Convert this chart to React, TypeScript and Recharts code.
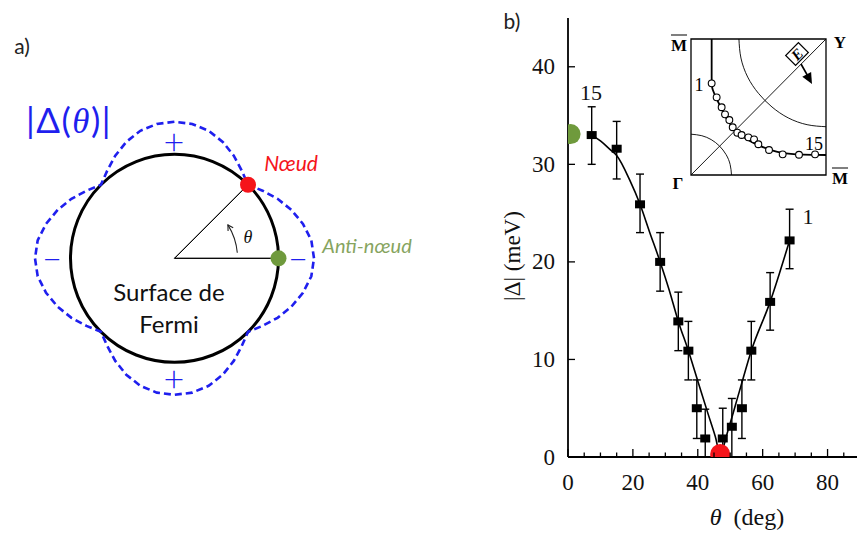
import React from 'react';
import {
  RadarChart, Radar, PolarGrid, PolarAngleAxis, PolarRadiusAxis,
  ComposedChart, Line, Scatter, ErrorBar, XAxis, YAxis, ReferenceArea, ReferenceLine,
} from 'recharts';

// ---------- panel a) : |Δ(θ)| drawn around a circular Fermi surface (radii in px)
const polarAngles = [0, 7.5, 15, 22.5, 30, 37.5, 45, 52.5, 60, 67.5, 75, 82.5, 90, 97.5, 105, 112.5, 120, 127.5, 135, 142.5, 150, 157.5, 165, 172.5, 180, 187.5, 195, 202.5, 210, 217.5, 225, 232.5, 240, 247.5, 255, 262.5, 270, 277.5, 285, 292.5, 300, 307.5, 315, 322.5, 330, 337.5, 345, 352.5];
const gapRadius = [139.5, 138, 133, 126.5, 119, 111, 104, 110.5, 118.5, 126, 132, 135.5, 136.5, 135.5, 132, 126, 118.5, 110.5, 104, 111, 119, 126.5, 133, 138, 139.5, 138, 133, 126.5, 119, 111, 104, 110.5, 118.5, 126, 132, 135.5, 136.5, 135.5, 132, 126, 118.5, 110.5, 104, 111, 119, 126.5, 133, 138];
const fermiRadius = [104];
const antinodeAngle = 0;
const nodeAngle = 45;

// ---------- panel b) : ARPES gap vs angle
const thetaDeg = [7.3, 15.0, 22.2, 28.4, 34.0, 37.1, 39.7, 42.3, 47.7, 50.5, 53.6, 56.5, 62.3, 68.3];
const gapMeV = [33.0, 31.6, 25.9, 20.0, 13.9, 10.9, 5.0, 1.9, 1.9, 3.1, 5.0, 10.9, 15.9, 22.2];
const errLow = [3.0, 3.1, 2.9, 3.0, 3.0, 3.0, 3.1, 1.9, 1.9, 3.1, 3.1, 3.0, 2.9, 2.9];
const errHigh = [2.9, 2.8, 3.1, 3.0, 3.0, 3.0, 2.9, 3.0, 3.1, 2.9, 2.9, 3.0, 3.0, 3.2];
const fitTheta = [7.3, 10, 13, 15, 19, 22.2, 25, 28.4, 31.3, 34, 37.1, 40, 43, 45.4, 46.9, 49.2, 52.8, 56.5, 62.3, 68.3];
const fitGap = [33.0, 32.4, 31.5, 30.9, 28.4, 25.9, 23.2, 20.0, 17.0, 13.9, 10.9, 7.8, 4.6, 2.1, 0.3, 2.6, 6.7, 10.9, 15.9, 22.2];
const antinodeMark = { x: 0.8, y: 33.1 };
const nodeMark = { x: 46.9, y: 0.3 };
const xMinorTicks = [0, 5, 10, 15, 20, 25, 30, 35, 40, 45, 50, 55, 60, 65, 70, 75, 80, 85];
const yTicks = [0, 10, 20, 30, 40];

// ---------- inset : Fermi surface in the quadrant Γ-M-Y-M (box units 0..1)
const fsKx = [0.153, 0.19, 0.227, 0.252, 0.284, 0.309, 0.343, 0.375, 0.425, 0.467, 0.499, 0.578, 0.679, 0.8, 0.919];
const fsKy = [0.674, 0.571, 0.498, 0.446, 0.404, 0.351, 0.311, 0.294, 0.277, 0.262, 0.226, 0.184, 0.152, 0.149, 0.152];
const fsFitKx = [0.153, 0.153, 0.16, 0.19, 0.23, 0.28, 0.34, 0.42, 0.52, 0.64, 0.78, 0.9, 1.0];
const fsFitKy = [1.0, 0.72, 0.63, 0.56, 0.48, 0.39, 0.32, 0.26, 0.21, 0.17, 0.152, 0.148, 0.147];
const gammaArcX = [0, 0.08, 0.15, 0.21, 0.26, 0.29, 0.3];
const gammaArcY = [0.3, 0.289, 0.26, 0.214, 0.15, 0.077, 0];
const yArcX = [0.355, 0.37, 0.42, 0.5, 0.6, 0.72, 0.86, 1.0];
const yArcY = [1.0, 0.86, 0.72, 0.6, 0.5, 0.42, 0.37, 0.355];

const SANS = 'Lato, "Open Sans", sans-serif';
const SERIF = '"Liberation Serif", "DejaVu Serif", serif';
const BLUE = '#1f1fee';
const RED = '#f5141b';
const GREEN = '#6f9a3c';

const pair = (xs: number[], ys: number[]) => xs.map((x, i) => ({ x, y: ys[i] }));

function Txt({ x, y, children, style }: { x: number; y: number; children: React.ReactNode; style?: React.CSSProperties }) {
  return (
    <div
      style={{
        position: 'absolute', left: x, top: y, transform: 'translate(-50%, -50%)',
        whiteSpace: 'nowrap', lineHeight: 1, ...style,
      }}
    >
      {children}
    </div>
  );
}

const BottomTick = (p: any) => {
  const v = p.payload.value;
  const major = v % 20 === 0;
  return (
    <g>
      <line x1={p.x} x2={p.x} y1={p.y} y2={p.y - (major ? 8 : 4.5)} stroke="#000" strokeWidth={1.3} />
      {major && (
        <text x={p.x} y={p.y + 33} textAnchor="middle" fontFamily={SERIF} fontSize={23} fill="#111">{v}</text>
      )}
    </g>
  );
};

const TopTick = (p: any) => {
  const major = p.payload.value % 20 === 0;
  return <line x1={p.x} x2={p.x} y1={p.y} y2={p.y + (major ? 8 : 4.5)} stroke="#000" strokeWidth={1.3} />;
};

const LeftTick = (p: any) => (
  <g>
    <line x1={p.x} x2={p.x + 7} y1={p.y} y2={p.y} stroke="#000" strokeWidth={1.3} />
    <text x={p.x - 13} y={p.y + 7.5} textAnchor="end" fontFamily={SERIF} fontSize={23} fill="#111">{p.payload.value}</text>
  </g>
);

const RightTick = (p: any) => (
  <line x1={p.x} x2={p.x - 7} y1={p.y} y2={p.y} stroke="#000" strokeWidth={1.3} />
);

const GapMarker = (p: any) => <rect x={p.cx - 5} y={p.cy - 4} width={10} height={8} fill="#000" />;
const BigDot = (color: string) => (p: any) => <circle cx={p.cx} cy={p.cy} r={10} fill={color} />;
const OpenCircle = (p: any) => <circle cx={p.cx} cy={p.cy} r={3.4} fill="#fff" stroke="#000" strokeWidth={1.1} />;

const polarDot = (p: any) => {
  const a = polarAngles[p.index];
  if (a !== antinodeAngle && a !== nodeAngle) return <g key={`d${p.index}`} />;
  return <circle key={`d${p.index}`} cx={p.cx} cy={p.cy} r={8} fill={a === nodeAngle ? RED : GREEN} />;
};

export default function App() {
  const polarData = polarAngles.map((angle, i) => ({
    angle,
    gap: gapRadius[i],
    ray: angle === antinodeAngle || angle === nodeAngle ? fermiRadius[0] : 0,
  }));
  const points = thetaDeg.map((x, i) => ({ x, y: gapMeV[i], err: [errLow[i], errHigh[i]] }));
  const fit = pair(fitTheta, fitGap);

  return (
    <div style={{ position: 'fixed', left: 0, top: 0, width: 857, height: 533, overflow: 'hidden', background: '#fff' }}>
      {/* a) */}
      <div style={{ position: 'absolute', left: 0, top: 0 }}>
        <RadarChart width={350} height={533} cx={174.5} cy={258.3} outerRadius={140}
          startAngle={-7.5} endAngle={352.5} data={polarData} margin={{ top: 0, right: 0, bottom: 0, left: 0 }}>
          <PolarGrid gridType="circle" radialLines={false} stroke="#000" strokeWidth={3} />
          <PolarAngleAxis dataKey="angle" tick={false} axisLine={false} tickLine={false} />
          <PolarRadiusAxis domain={[0, 140]} ticks={fermiRadius} tick={false} axisLine={false} tickLine={false} />
          <Radar dataKey="gap" stroke={BLUE} strokeWidth={2.6} strokeDasharray="7 4" fill="none" dot={false} isAnimationActive={false} />
          <Radar dataKey="ray" stroke="#000" strokeWidth={1} fill="none" dot={polarDot} isAnimationActive={false} />
        </RadarChart>
      </div>
      <svg width={857} height={533} style={{ position: 'absolute', left: 0, top: 0 }}>
        <path d="M 237.3 252.8 A 63 63 0 0 0 227.9 224.9" fill="none" stroke="#222" strokeWidth={1.1} />
        <path d="M 228.1 230.9 L 227.9 224.9 L 233.2 227.7" fill="none" stroke="#222" strokeWidth={1.1} />
      </svg>
      <Txt x={22} y={45} style={{ fontFamily: SANS, fontSize: 21, color: '#222' }}>a)</Txt>
      <Txt x={69} y={120} style={{ fontFamily: SANS, fontSize: 35, color: BLUE, letterSpacing: 1.5 }}>
        |Δ(<span style={{ fontFamily: SERIF, fontStyle: 'italic' }}>θ</span>)|
      </Txt>
      <Txt x={174} y={141} style={{ fontFamily: SANS, fontSize: 36, fontWeight: 300, color: BLUE }}>+</Txt>
      <Txt x={174} y={378} style={{ fontFamily: SANS, fontSize: 36, fontWeight: 300, color: BLUE }}>+</Txt>
      <Txt x={52} y={258} style={{ fontFamily: SANS, fontSize: 34, fontWeight: 300, color: BLUE }}>−</Txt>
      <Txt x={298} y={258} style={{ fontFamily: SANS, fontSize: 34, fontWeight: 300, color: BLUE }}>−</Txt>
      <Txt x={291} y={162} style={{ fontFamily: SANS, fontSize: 21, fontStyle: 'italic', color: RED }}>Nœud</Txt>
      <Txt x={367} y={245} style={{ fontFamily: SANS, fontSize: 20, fontStyle: 'italic', color: '#86a45e' }}>Anti-nœud</Txt>
      <Txt x={169} y={292} style={{ fontFamily: SANS, fontSize: 24, color: '#111' }}>Surface de</Txt>
      <Txt x={169} y={324} style={{ fontFamily: SANS, fontSize: 24, color: '#111' }}>Fermi</Txt>
      <Txt x={248} y={237} style={{ fontFamily: SERIF, fontSize: 18, fontStyle: 'italic', color: '#111' }}>θ</Txt>

      {/* b) */}
      <div style={{ position: 'absolute', left: 480, top: 0 }}>
        <ComposedChart width={400} height={533} margin={{ top: 18, right: 20, bottom: 16, left: 0 }}>
          <XAxis type="number" dataKey="x" domain={[0, 90]} ticks={xMinorTicks} interval={0} height={60}
            tickSize={0} tickMargin={0} tick={<BottomTick />} tickLine={false}
            axisLine={{ stroke: '#000', strokeWidth: 1.8 }} allowDataOverflow />
          <XAxis xAxisId="top" orientation="top" type="number" dataKey="x" domain={[0, 90]} ticks={xMinorTicks}
            interval={0} height={0} tickSize={0} tickMargin={0} tick={<TopTick />} tickLine={false}
            axisLine={{ stroke: '#000', strokeWidth: 1.8 }} allowDataOverflow />
          <YAxis type="number" domain={[0, 45]} ticks={yTicks} interval={0} width={88}
            tickSize={0} tickMargin={0} tick={<LeftTick />} tickLine={false}
            axisLine={{ stroke: '#000', strokeWidth: 1.8 }} allowDataOverflow />
          <YAxis yAxisId="right" orientation="right" type="number" domain={[0, 45]} ticks={yTicks.slice(1)}
            interval={0} width={0} tickSize={0} tickMargin={0} tick={<RightTick />} tickLine={false}
            axisLine={{ stroke: '#000', strokeWidth: 1.8 }} allowDataOverflow />
          <Line data={fit} dataKey="y" type="monotone" stroke="#000" strokeWidth={1.6} dot={false} isAnimationActive={false} />
          <Scatter data={points} dataKey="y" shape={GapMarker} isAnimationActive={false}>
            <ErrorBar dataKey="err" direction="y" width={4} stroke="#000" strokeWidth={1.4} />
          </Scatter>
          <Scatter data={[antinodeMark]} dataKey="y" shape={BigDot(GREEN)} isAnimationActive={false} />
          <Scatter data={[nodeMark]} dataKey="y" shape={BigDot(RED)} isAnimationActive={false} />
        </ComposedChart>
      </div>
      <Txt x={512} y={20} style={{ fontFamily: SANS, fontSize: 21, color: '#222' }}>b)</Txt>
      <Txt x={512} y={256} style={{ fontFamily: SERIF, fontSize: 23, color: '#111', transform: 'translate(-50%, -50%) rotate(-90deg)' }}>|Δ| (meV)</Txt>
      <Txt x={747} y={517} style={{ fontFamily: SERIF, fontSize: 24, color: '#111' }}>
        <span style={{ fontStyle: 'italic' }}>θ</span>&nbsp;&nbsp;(deg)
      </Txt>
      <Txt x={591} y={93} style={{ fontFamily: SERIF, fontSize: 22, color: '#111' }}>15</Txt>
      <Txt x={808} y={217} style={{ fontFamily: SERIF, fontSize: 22, color: '#111' }}>1</Txt>

      {/* inset */}
      <div style={{ position: 'absolute', left: 689, top: 37 }}>
        <ComposedChart width={139} height={140} margin={{ top: 2, right: 2, bottom: 2, left: 2 }}>
          <XAxis type="number" dataKey="x" domain={[0, 1]} hide allowDataOverflow />
          <YAxis type="number" domain={[0, 1]} hide allowDataOverflow />
          <ReferenceArea x1={0} x2={1} y1={0} y2={1} fill="#fff" fillOpacity={1} stroke="#000" strokeWidth={1.3} />
          <ReferenceLine segment={[{ x: 0, y: 0 }, { x: 1, y: 1 }]} stroke="#000" strokeWidth={0.9} />
          <Line data={pair(gammaArcX, gammaArcY)} dataKey="y" type="natural" stroke="#000" strokeWidth={0.9} dot={false} isAnimationActive={false} />
          <Line data={pair(yArcX, yArcY)} dataKey="y" type="natural" stroke="#000" strokeWidth={0.9} dot={false} isAnimationActive={false} />
          <Line data={pair(fsFitKx, fsFitKy)} dataKey="y" type="natural" stroke="#000" strokeWidth={1.8} dot={false} isAnimationActive={false} />
          <Scatter data={pair(fsKx, fsKy)} dataKey="y" shape={OpenCircle} isAnimationActive={false} />
        </ComposedChart>
      </div>
      <svg width={857} height={533} style={{ position: 'absolute', left: 0, top: 0, pointerEvents: 'none' }}>
        <g transform="translate(797 54) rotate(-45)">
          <rect x={-9} y={-7} width={18} height={14} fill="#fff" stroke="#000" strokeWidth={1.2} />
          <text x={0} y={5.5} textAnchor="middle" fontFamily={SERIF} fontWeight="bold" fontStyle="italic" fontSize={15}>E</text>
        </g>
        <line x1={801} y1={64} x2={807.5} y2={75.5} stroke="#000" strokeWidth={1.6} />
        <polygon points="812,84 811.1,72 802.3,76.8" fill="#000" />
      </svg>
      <Txt x={679} y={45} style={{ fontFamily: SERIF, fontSize: 17, fontWeight: 'bold', textDecoration: 'overline' }}>M</Txt>
      <Txt x={840} y={42} style={{ fontFamily: SERIF, fontSize: 17, fontWeight: 'bold' }}>Y</Txt>
      <Txt x={678} y={183} style={{ fontFamily: SERIF, fontSize: 17, fontWeight: 'bold' }}>Γ</Txt>
      <Txt x={840} y={178} style={{ fontFamily: SERIF, fontSize: 17, fontWeight: 'bold', textDecoration: 'overline' }}>M</Txt>
      <Txt x={699} y={85} style={{ fontFamily: SERIF, fontSize: 18 }}>1</Txt>
      <Txt x={814} y={144} style={{ fontFamily: SERIF, fontSize: 18 }}>15</Txt>
    </div>
  );
}
